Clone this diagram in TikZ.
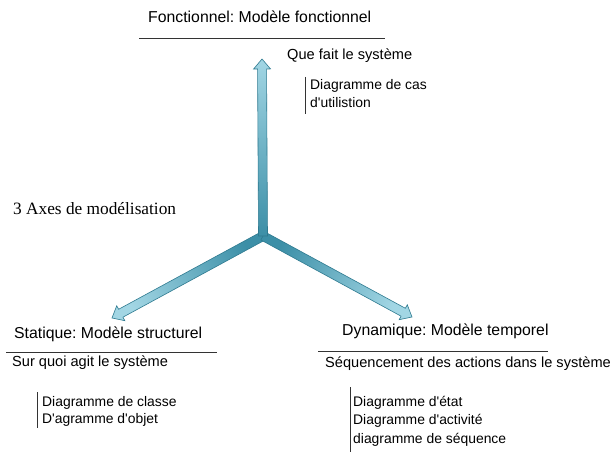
\documentclass[tikz,border=0pt]{standalone}
\usepackage{fontspec}
\setmainfont{Liberation Sans}
\newfontfamily\serifface{Liberation Serif}
\usetikzlibrary{calc}
\frenchspacing

\definecolor{hubteal}{HTML}{3C8FA7}
\definecolor{tipblue}{HTML}{A2D6E4}
\definecolor{edgeteal}{HTML}{2E7A90}
\definecolor{rulegray}{HTML}{333333}

\tikzset{
  titletext/.style={anchor=base west, inner sep=0pt, font=\fontsize{15.8bp}{18bp}\selectfont},
  subtext/.style={anchor=base west, inner sep=0pt, font=\fontsize{14.6bp}{17bp}\selectfont},
  itemtext/.style={anchor=base west, inner sep=0pt, font=\fontsize{13.9bp}{16bp}\selectfont},
  axistext/.style={anchor=base west, inner sep=0pt, font=\serifface\fontsize{17.3bp}{20bp}\selectfont},
  headrule/.style={draw=rulegray, line width=0.8bp},
  itembar/.style={draw=rulegray, line width=0.8bp},
  axisbody/.style={draw=edgeteal, line width=0.6bp, line join=miter,
                   bottom color=hubteal, top color=tipblue},
}
\newcommand\apos{\textquotesingle}

% block arrow from #1 to #2; #3 = shading angle so the light end sits at the tip
\newcommand\axisarrow[3]{%
  \coordinate (hb) at ($(#2)!10bp!(#1)$);
  \path[axisbody, shading angle=#3]
    ($(#1)!4.5bp!90:(#2)$) -- ($(hb)!4.5bp!90:(#2)$) -- ($(hb)!8.5bp!90:(#2)$)
    -- (#2) -- ($(hb)!8.5bp!-90:(#2)$) -- ($(hb)!4.5bp!-90:(#2)$)
    -- ($(#1)!4.5bp!-90:(#2)$) -- cycle;
}

\begin{document}
\begin{tikzpicture}[x=1bp, y=-1bp]
  \useasboundingbox[fill=white] (0,0) rectangle (614,452);

  % the three axes
  \coordinate (hub) at (263,236);
  \coordinate (tipF) at (262,59);
  \coordinate (tipS) at (112,318);
  \coordinate (tipD) at (412,317);
  \axisarrow{hub}{tipS}{118.8}
  \axisarrow{hub}{tipD}{-118.8}
  \axisarrow{hub}{tipF}{0}

  \node[axistext] (axes) at (13,215) {3 Axes de modélisation};

  % functional axis
  \node[titletext] (fonc) at (148,23) {Fonctionnel: Modèle fonctionnel};
  \draw[headrule] (139,38) -- (385,38);
  \node[subtext] (fonq) at (287,60) {Que fait le système};
  \draw[itembar] (305,77) -- (305,114);
  \node[itemtext] (fon1) at (310,90) {Diagramme de cas};
  \node[itemtext] (fon2) at (310,108) {d\apos utilistion};

  % static axis
  \node[titletext] (stat) at (14,338) {Statique: Modèle structurel};
  \draw[headrule] (6,352) -- (217,352);
  \node[subtext] (statq) at (12,366) {Sur quoi agit le système};
  \draw[itembar] (37,392) -- (37,428);
  \node[itemtext] (stat1) at (42,406) {Diagramme de classe};
  \node[itemtext] (stat2) at (42,423) {D\apos agramme d\apos objet};

  % dynamic axis
  \node[titletext] (dyn) at (342,335) {Dynamique: Modèle temporel};
  \draw[headrule] (318,351) -- (548,351);
  \node[subtext] (dynq) at (325,367) {Séquencement des actions dans le système};
  \draw[itembar] (350,387) -- (350,452);
  \node[itemtext] (dyn1) at (353,406) {Diagramme d\apos état};
  \node[itemtext] (dyn2) at (353,424) {Diagramme d\apos activité};
  \node[itemtext] (dyn3) at (353,443) {diagramme de séquence};
\end{tikzpicture}
\end{document}
